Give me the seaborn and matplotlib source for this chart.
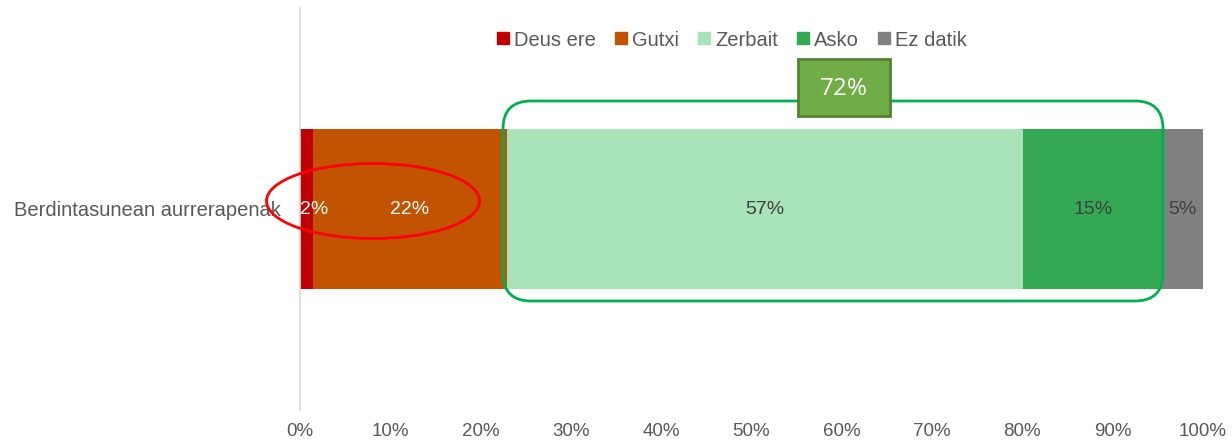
import matplotlib
matplotlib.use("Agg")
import matplotlib.pyplot as plt
import seaborn as sns
import numpy as np
from matplotlib.patches import Ellipse, FancyBboxPatch, Rectangle
from matplotlib.lines import Line2D

# data
categories = ["Berdintasunean aurrerapenak"]
series = ["Deus ere", "Gutxi", "Zerbait", "Asko", "Ez datik"]
values = [1.4, 21.5, 57.2, 15.4, 4.5]
value_labels = ["2%", "22%", "57%", "15%", "5%"]
highlight_label = "72%"
ticks = [0, 10, 20, 30, 40, 50, 60, 70, 80, 90, 100]

colors = ["#C00000", "#C25300", "#A8E3B9", "#35A853", "#808080"]
text_colors = ["white", "white", "#404040", "#404040", "#404040"]

sns.set_style("white")
plt.rcParams["font.family"] = ["Liberation Sans", "DejaVu Sans"]

fig = plt.figure(figsize=(12.32, 4.41), dpi=100)
ax = fig.add_axes([300 / 1232, 31 / 441, 903 / 1232, 402 / 441])

# stacked bar: draw cumulative totals, widest first
cum = np.cumsum(values)
for i in range(len(series) - 1, -1, -1):
    sns.barplot(x=[cum[i]], y=categories, color=colors[i], orient="h",
                width=0.4, saturation=1, linewidth=0, ax=ax)

starts = cum - np.array(values)
for i in range(len(series)):
    if values[i] < 3:
        # tiny segment: label sits from the left edge
        ax.text(starts[i], 0, value_labels[i], ha="left", va="center",
                fontsize=14, color=text_colors[i])
    else:
        ax.text(starts[i] + values[i] / 2, 0, value_labels[i], ha="center",
                va="center", fontsize=14, color=text_colors[i])

ax.set_xlim(0, 100)
ax.set_xticks(ticks)
ax.set_xticklabels([f"{t}%" for t in ticks])
ax.tick_params(axis="x", length=0, pad=9, labelsize=13.5, labelcolor="#595959")
ax.tick_params(axis="y", length=0, pad=14, labelsize=14.5, labelcolor="#595959")
ax.set_xlabel("")
ax.set_ylabel("")
for s in ["top", "right", "bottom"]:
    ax.spines[s].set_visible(False)
ax.spines["left"].set_color("#D9D9D9")
ax.spines["left"].set_linewidth(1.2)

handles = [Line2D([0], [0], marker="s", linestyle="", markersize=8,
                  markerfacecolor=c, markeredgecolor=c) for c in colors]
fig.legend(handles, series, loc="center", bbox_to_anchor=(732 / 1232, 1 - 40 / 441),
           ncol=5, frameon=False, fontsize=14.5, labelcolor="#595959",
           handlelength=0.6, handletextpad=0.25, columnspacing=0.95)

# annotations in inch coordinates
tr = fig.dpi_scale_trans
ell = Ellipse((3.73, 2.40), 2.13, 0.75, transform=tr, fill=False,
              edgecolor="red", linewidth=2)
fig.add_artist(ell)
rbox = FancyBboxPatch((5.03, 1.40), 6.60, 2.00, boxstyle="round,pad=0,rounding_size=0.28",
                      transform=tr, fill=False, edgecolor="#00B050", linewidth=2)
fig.add_artist(rbox)
tag = Rectangle((7.98, 3.25), 0.92, 0.57, transform=tr, facecolor="#70AD47",
                edgecolor="#548235", linewidth=2)
fig.add_artist(tag)
fig.text(8.44 / 12.32, 3.52 / 4.41, highlight_label, ha="center", va="center",
         color="white", fontsize=17.5, family=["Open Sans", "DejaVu Sans"])

fig.savefig("out.png", dpi=100)
